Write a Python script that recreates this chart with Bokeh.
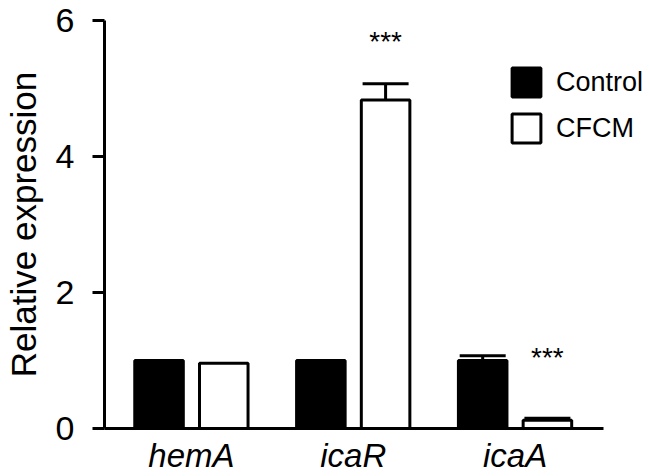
from bokeh.plotting import figure
from bokeh.models import (Range1d, FixedTicker, ColumnDataSource, Whisker, TeeHead,
                          Legend, LegendItem)
from bokeh.embed import file_html
from bokeh.resources import INLINE
from bokeh.core.properties import value

# ---- data ----
genes = ["hemA", "icaR", "icaA"]
control = [1.0, 1.0, 1.0]
control_err = [0.0, 0.0, 0.07]
cfcm = [0.96, 4.83, 0.12]
cfcm_err = [0.0, 0.24, 0.03]
star_genes = ["icaR", "icaA"]
star_y = [5.69, 1.04]
y_ticks = [0, 2, 4, 6]

FONT = "Liberation Sans"
OFFSET = 0.2
BAR_W = 0.30

idx = list(range(len(genes)))
ctrl_x = [i - OFFSET for i in idx]
cfcm_x = [i + OFFSET for i in idx]

p = figure(width=650, height=476,
           x_range=Range1d(-0.537, 2.837), y_range=Range1d(0, 6),
           output_backend="svg", toolbar_location=None,
           min_border_left=100, min_border_right=0, min_border_top=20, min_border_bottom=0)
p.outline_line_color = None
p.xgrid.visible = False
p.ygrid.visible = False
p.background_fill_color = "white"
p.border_fill_color = "white"

src_ctrl = ColumnDataSource(dict(x=ctrl_x, top=control))
src_cfcm = ColumnDataSource(dict(x=cfcm_x, top=cfcm))
r_ctrl = p.vbar(x="x", top="top", width=BAR_W, source=src_ctrl,
                fill_color="black", line_color="black", line_width=3)
r_cfcm = p.vbar(x="x", top="top", width=BAR_W, source=src_cfcm,
                fill_color="white", line_color="black", line_width=3)

# error bars (upper whisker only)
ex, elo, ehi = [], [], []
for xs, vals, errs in ((ctrl_x, control, control_err), (cfcm_x, cfcm, cfcm_err)):
    for x, v, e in zip(xs, vals, errs):
        if e > 0:
            ex.append(x); elo.append(v); ehi.append(v + e)
src_err = ColumnDataSource(dict(base=ex, lower=elo, upper=ehi))
p.add_layout(Whisker(base="base", lower="lower", upper="upper", source=src_err,
                     line_color="black", line_width=3,
                     upper_head=TeeHead(size=46, line_width=3, line_color="black"),
                     lower_head=None))

# significance stars
star_x = [genes.index(g) + OFFSET for g in star_genes]
p.text(x=star_x, y=star_y, text=["***"] * len(star_x), text_align="center",
       text_baseline="alphabetic", text_font=value(FONT), text_font_size="28px",
       text_color="black")

# axes
p.yaxis.ticker = FixedTicker(ticks=y_ticks)
p.yaxis.minor_tick_line_color = None
p.yaxis.major_tick_in = 0
p.yaxis.major_tick_out = 12
p.yaxis.major_tick_line_width = 3
p.yaxis.axis_line_width = 3
p.yaxis.major_label_text_font = FONT
p.yaxis.major_label_text_font_size = "34px"
p.yaxis.major_label_text_color = "black"
p.yaxis.major_label_standoff = 18
p.yaxis.axis_label = "Relative expression"
p.yaxis.axis_label_text_font = FONT
p.yaxis.axis_label_text_font_size = "35px"
p.yaxis.axis_label_text_font_style = "normal"
p.yaxis.axis_label_text_color = "black"
p.yaxis.axis_label_standoff = 10

p.xaxis.ticker = FixedTicker(ticks=idx)
p.xaxis.bounds = (-0.537, 2.549)
p.xaxis.major_label_overrides = {i: g for i, g in zip(idx, genes)}
p.xaxis.minor_tick_line_color = None
p.xaxis.major_tick_in = 0
p.xaxis.major_tick_out = 0
p.xaxis.axis_line_width = 3
p.xaxis.major_label_text_font = FONT
p.xaxis.major_label_text_font_size = "33px"
p.xaxis.major_label_text_font_style = "italic"
p.xaxis.major_label_text_color = "black"
p.xaxis.major_label_standoff = 8
p.xaxis.axis_label_standoff = 0
p.xaxis.axis_label_text_font_size = "0px"

legend = Legend(items=[LegendItem(label="Control", renderers=[r_ctrl]),
                       LegendItem(label="CFCM", renderers=[r_cfcm])],
                location=(404, 282), glyph_width=36, glyph_height=36,
                spacing=10, padding=0, margin=0, label_standoff=12,
                label_text_font=FONT, label_text_font_size="27px",
                label_text_color="black", border_line_color=None,
                background_fill_alpha=0)
p.add_layout(legend)

open("out.html", "w").write(file_html(p, INLINE))
